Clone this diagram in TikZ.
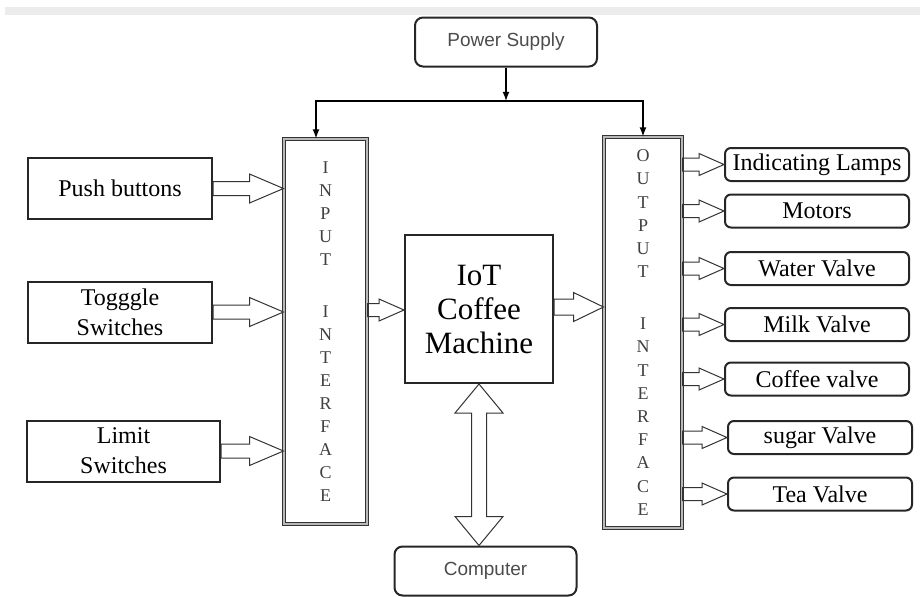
\documentclass[tikz,border=0pt]{standalone}
\usepackage{fontspec}
\setmainfont{Liberation Serif}
\newfontfamily\sanos{Liberation Sans}
\usepackage{tikz}
\usetikzlibrary{calc}

\tikzset{
    caja/.style={draw=black!85, line width=1pt, minimum width=92pt, minimum height=30.5pt,
        inner sep=1pt, align=center, font=\fontsize{12}{15}\selectfont},
    redonda/.style={draw=black!85, line width=1pt, rounded corners=3pt, minimum width=92pt,
        minimum height=16.5pt, inner sep=0pt, font=\fontsize{12}{14}\selectfont},
    fuente/.style={draw=black!85, line width=1pt, rounded corners=4pt, minimum width=91pt,
        minimum height=24.5pt, text=black!70, font=\sanos\fontsize{9.5}{11}\selectfont},
    interfaz/.style={draw=black!80, double=gray!55, double distance=1.2pt, line width=0.5pt},
    letras/.style={align=center, text=black!75, font=\fontsize{9}{11.5}\selectfont},
    hueco/.style n args={3}{draw=black!80, line width=0.5pt, to path={
        let \p1=(\tikztostart), \p2=(\tikztotarget) in
        (\x1,\y1+#3) -- (\x2-#1,\y1+#3) -- (\x2-#1,\y1+#2) -- (\x2,\y1)
        -- (\x2-#1,\y1-#2) -- (\x2-#1,\y1-#3) -- (\x1,\y1-#3) -- cycle}},
    huecodoble/.style={draw=black!80, line width=0.5pt, to path={
        let \p1=(\tikztostart), \p2=(\tikztotarget) in
        (\x1,\y1) -- (\x1+12pt,\y1-14.5pt) -- (\x1+3.75pt,\y1-14.5pt) -- (\x1+3.75pt,\y2+14.5pt)
        -- (\x1+12pt,\y2+14.5pt) -- (\x1,\y2) -- (\x1-12pt,\y2+14.5pt) -- (\x1-3.75pt,\y2+14.5pt)
        -- (\x1-3.75pt,\y1-14.5pt) -- (\x1-12pt,\y1-14.5pt) -- cycle}}
}

\begin{document}
\begin{tikzpicture}[x=0.5pt,y=-0.5pt,>=latex]
    \useasboundingbox (0,0) rectangle (920,596);
    \fill[gray!15] (5,7) rectangle (920,15);

    % fuente y buses
    \node[fuente] (psu) at (506,42) {Power Supply};
    \node[interfaz, minimum width=41.5pt, minimum height=192.5pt] (inp) at (325.5,331.5) {};
    \node[interfaz, minimum width=39pt, minimum height=195.5pt] (outp) at (643,332.5) {};
    \coordinate (bus) at (506,101);
    \draw[->, line width=0.6pt] (psu) -- (bus);
    \draw[->, line width=0.6pt] (bus) -| ([xshift=-4.75pt]inp.north);
    \draw[->, line width=0.6pt] (bus) -| (outp.north);

    \node[letras] at (inp) {I\\N\\P\\U\\T\\[14.5pt]I\\N\\T\\E\\R\\F\\A\\C\\E};
    \node[letras, font=\fontsize{9}{11.6}\selectfont] at (outp) {O\\U\\T\\P\\U\\T\\[14.4pt]I\\N\\T\\E\\R\\F\\A\\C\\E};

    % entradas
    \node[caja] (push) at (120,188.5) {Push buttons};
    \node[caja] (togg) at (120,312) {Togggle\\Switches};
    \node[caja, minimum width=96.5pt] (limit) at (123.5,451) {Limit\\Switches};
    \foreach \Valor in {push,togg,limit}
        \draw[hueco={17pt}{7.25pt}{3.5pt}] (\Valor.east) to (\Valor.east -| inp.west);

    % maquina
    \node[caja, minimum width=74pt, minimum height=74pt,
        font=\fontsize{15.5}{17}\selectfont] (iot) at (479,309) {IoT\\Coffee\\Machine};
    \draw[hueco={12.5pt}{5.5pt}{3.25pt}] (inp.east |- 0,310) to (iot.west |- 0,310);
    \draw[hueco={15pt}{7.25pt}{4pt}] (iot.east |- 0,307) to (outp.west |- 0,307);

    \node[fuente] (pc) at (485.5,571) {Computer};
    \draw[huecodoble] (iot.south) to (iot.south |- pc.north);

    % salidas
    \foreach \Y/\X/\Nombre/\Texto in {164.5/817/lamp/Indicating Lamps, 211/817/mot/Motors,
        268.5/817/agua/Water Valve, 324.5/817/leche/Milk Valve, 379/817/cafe/Coffee valve,
        437.5/820/azucar/sugar Valve, 494/820/te/Tea Valve}
    {
        \node[redonda] (\Nombre) at (\X,\Y) {\Texto};
        \draw[hueco={12.5pt}{5.5pt}{3.25pt}] (outp.east |- \Nombre.west) to (\Nombre.west);
    }
\end{tikzpicture}
\end{document}
